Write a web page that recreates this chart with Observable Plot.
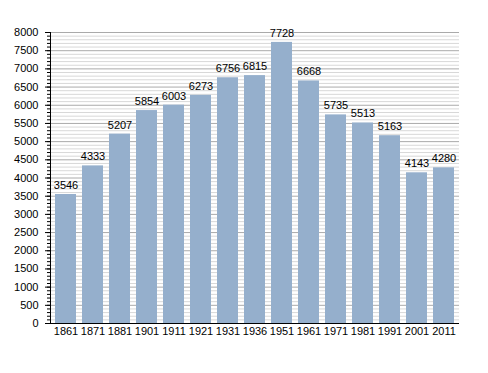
<!DOCTYPE html>
<html><head><meta charset="utf-8">
<script src="https://cdn.jsdelivr.net/npm/d3@7"></script>
<script src="https://cdn.jsdelivr.net/npm/@observablehq/plot@0.6"></script>
<style>body{margin:0;background:#fff;font-family:"Liberation Sans",Arial,sans-serif}</style>
</head><body><div id="chart"></div>
<script>
const years = ["1861","1871","1881","1901","1911","1921","1931","1936","1951","1961","1971","1981","1991","2001","2011"];
const population = [3546,4333,5207,5854,6003,6273,6756,6815,7728,6668,5735,5513,5163,4143,4280];
const majorTicks = d3.range(0, 8001, 500);
const minorTicks = d3.range(0, 8001, 100);
const data = years.map((y,i)=>({year:y, pop:population[i]}));

const chart = Plot.plot({
  width: 488, height: 373,
  marginTop: 32, marginBottom: 50, marginLeft: 50, marginRight: 29,
  style: {fontFamily: "'Liberation Sans', Arial, sans-serif", fontSize: "11px", color: "#000", background: "#fff"},
  x: {domain: years, paddingInner: 0.24, paddingOuter: 0.04, label: null},
  y: {domain: [0, 8000], label: null},
  marks: [
    Plot.ruleY(minorTicks.filter(t => t % 500 !== 0), {stroke: "#d8d8d8", strokeWidth: 1}),
    Plot.ruleY(majorTicks, {stroke: "#aaaaaa", strokeWidth: 1}),
    Plot.barY(data, {x: "year", y: "pop", fill: "#95afcc"}),
    Plot.text(data, {x: "year", y: "pop", text: d => String(d.pop), dy: -9, fill: "#000", fontSize: 11}),
    Plot.axisY({ticks: minorTicks, tickSize: 3, tickFormat: () => "", stroke: "#000"}),
    Plot.axisY({ticks: majorTicks, tickSize: 5, tickPadding: 7, tickFormat: d => String(d), fontSize: 11, stroke: "#000"}),
    Plot.axisX({tickSize: 0, tickPadding: 4, fontSize: 11}),
    Plot.ruleY([0], {stroke: "#000"}),
    Plot.frame({anchor: "left", stroke: "#000"})
  ]
});
document.getElementById("chart").appendChild(chart);
</script></body></html>
